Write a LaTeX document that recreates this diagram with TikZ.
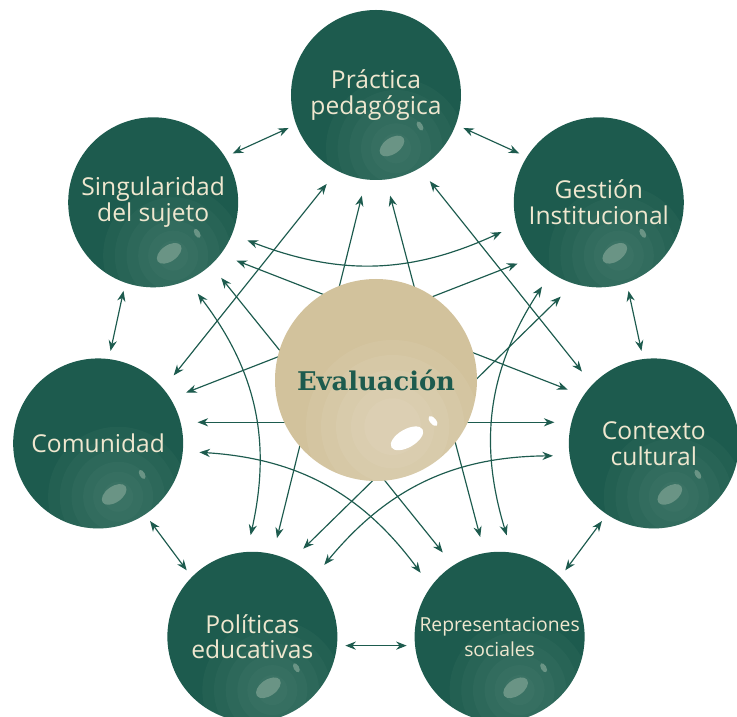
\documentclass[tikz,border=0pt]{standalone}
\usepackage{fontspec}
\setmainfont{Open Sans}
\newfontfamily\evalfont{DejaVu Serif}
\usetikzlibrary{arrows.meta}

\definecolor{pine}{HTML}{1D5B4E}
\definecolor{pineglow}{HTML}{6E9C8D}
\definecolor{pinespot}{HTML}{6A9485}
\definecolor{cream}{HTML}{EFE7CF}
\definecolor{sand}{HTML}{D2C29C}
\definecolor{sandglow}{HTML}{F6F1E6}

\begin{document}
\begin{tikzpicture}[every node/.style={circle, inner sep=0pt, outer sep=0.5cm, align=center},
	every edge/.style={draw=pine, line width=1pt, <->},
	>={Stealth[length=9pt, width=7pt]},
	glow/.style={fill=#1, fill opacity=0.08},
	field/.style={fill=pine, text=cream, minimum size=5.1cm, font=\fontsize{21}{22}\selectfont,
		path picture={
			\fill[glow=pineglow] (path picture bounding box.center) ++(0.6,-1.6) circle (2.1);
			\fill[glow=pineglow] (path picture bounding box.center) ++(0.6,-1.6) circle (1.75);
			\fill[glow=pineglow] (path picture bounding box.center) ++(0.6,-1.6) circle (1.4);
			\fill[glow=pineglow] (path picture bounding box.center) ++(0.6,-1.6) circle (1.05);
			\fill[glow=pineglow] (path picture bounding box.center) ++(0.6,-1.6) circle (0.75);
			\fill[glow=pineglow] (path picture bounding box.center) ++(0.6,-1.6) circle (0.45);
			\fill[pinespot] (path picture bounding box.center) ++(0.48,-1.53) ellipse[x radius=0.42, y radius=0.24, rotate=35];
			\fill[pinespot] (path picture bounding box.center) ++(1.32,-0.93) ellipse[x radius=0.08, y radius=0.15, rotate=30];}},
	close/.style={shorten >=-0.25cm, shorten <=-0.25cm}]
				\useasboundingbox (-11.28,-10.11) rectangle (10.83,11.4);
				
				\node[field] (pract) at (90:8.55){Práctica\\pedagógica};
				\node[field] (sing) at (141.43:8.55){Singularidad\\del sujeto};
				\node[field] (comun) at (192.86:8.55){Comunidad};
				\node[field] (polit) at (244.29:8.55){Políticas\\educativas};
				\node[field, font=\fontsize{16.5}{21}\selectfont] (repres) at (295.71:8.55){Representaciones\\sociales};
				\node[field] (context) at (347.14:8.55){Contexto\\cultural};
				\node[field] (gestion) at (38.57:8.55){Gestión\\Institucional};
				
				% neighbours
				\path (pract.201) edge[close] (sing.31);
				\path (sing.252) edge[close] (comun.82);
				\path (comun.304) edge[close] (polit.134);
				\path (polit.355) edge[close] (repres.185);
				\path (repres.46) edge[close] (context.236);
				\path (context.98) edge[close] (gestion.288);
				\path (gestion.149) edge[close] (pract.339);
				
				% straight ones
				\path (pract.241) edge (comun.42);
				\path (pract.302) edge (context.135);
				\path (pract.262) edge (polit.76);
				\path (pract.278) edge (repres.101);
				\path (sing.312) edge (repres.124);
				\path (sing.325) edge (context.148);
				\path (comun.12) edge (context.168);
				\path (comun.30) edge (gestion.217);
				\path (polit.60) edge (gestion.248);
				
				% bent ones
				\path (sing.338) edge[bend right=23] (gestion.197);
				\path (polit.91) edge[bend right=25] (sing.296);
				\path (repres.141) edge[bend right=25] (comun.355);
				\path (context.187) edge[bend right=25] (polit.45);
				\path (gestion.236) edge[bend right=25] (repres.86);
				
				\node[fill=sand, text=pine, minimum size=6.06cm, outer sep=0pt, font=\evalfont\bfseries\fontsize{22}{24}\selectfont,
					path picture={
						\fill[glow=sandglow] (path picture bounding box.center) ++(0.5,-1.4) circle (2.6);
						\fill[glow=sandglow] (path picture bounding box.center) ++(0.5,-1.4) circle (2.15);
						\fill[glow=sandglow] (path picture bounding box.center) ++(0.5,-1.4) circle (1.7);
						\fill[glow=sandglow] (path picture bounding box.center) ++(0.5,-1.4) circle (1.25);
						\fill[glow=sandglow] (path picture bounding box.center) ++(0.5,-1.4) circle (0.85);
						\fill[white] (path picture bounding box.center) ++(0.93,-1.75) ellipse[x radius=0.54, y radius=0.27, rotate=30];
						\fill[white] (path picture bounding box.center) ++(1.71,-1.23) ellipse[x radius=0.09, y radius=0.18, rotate=40];}] (eval) at (0,0){Evaluación};
\end{tikzpicture}
\end{document}
